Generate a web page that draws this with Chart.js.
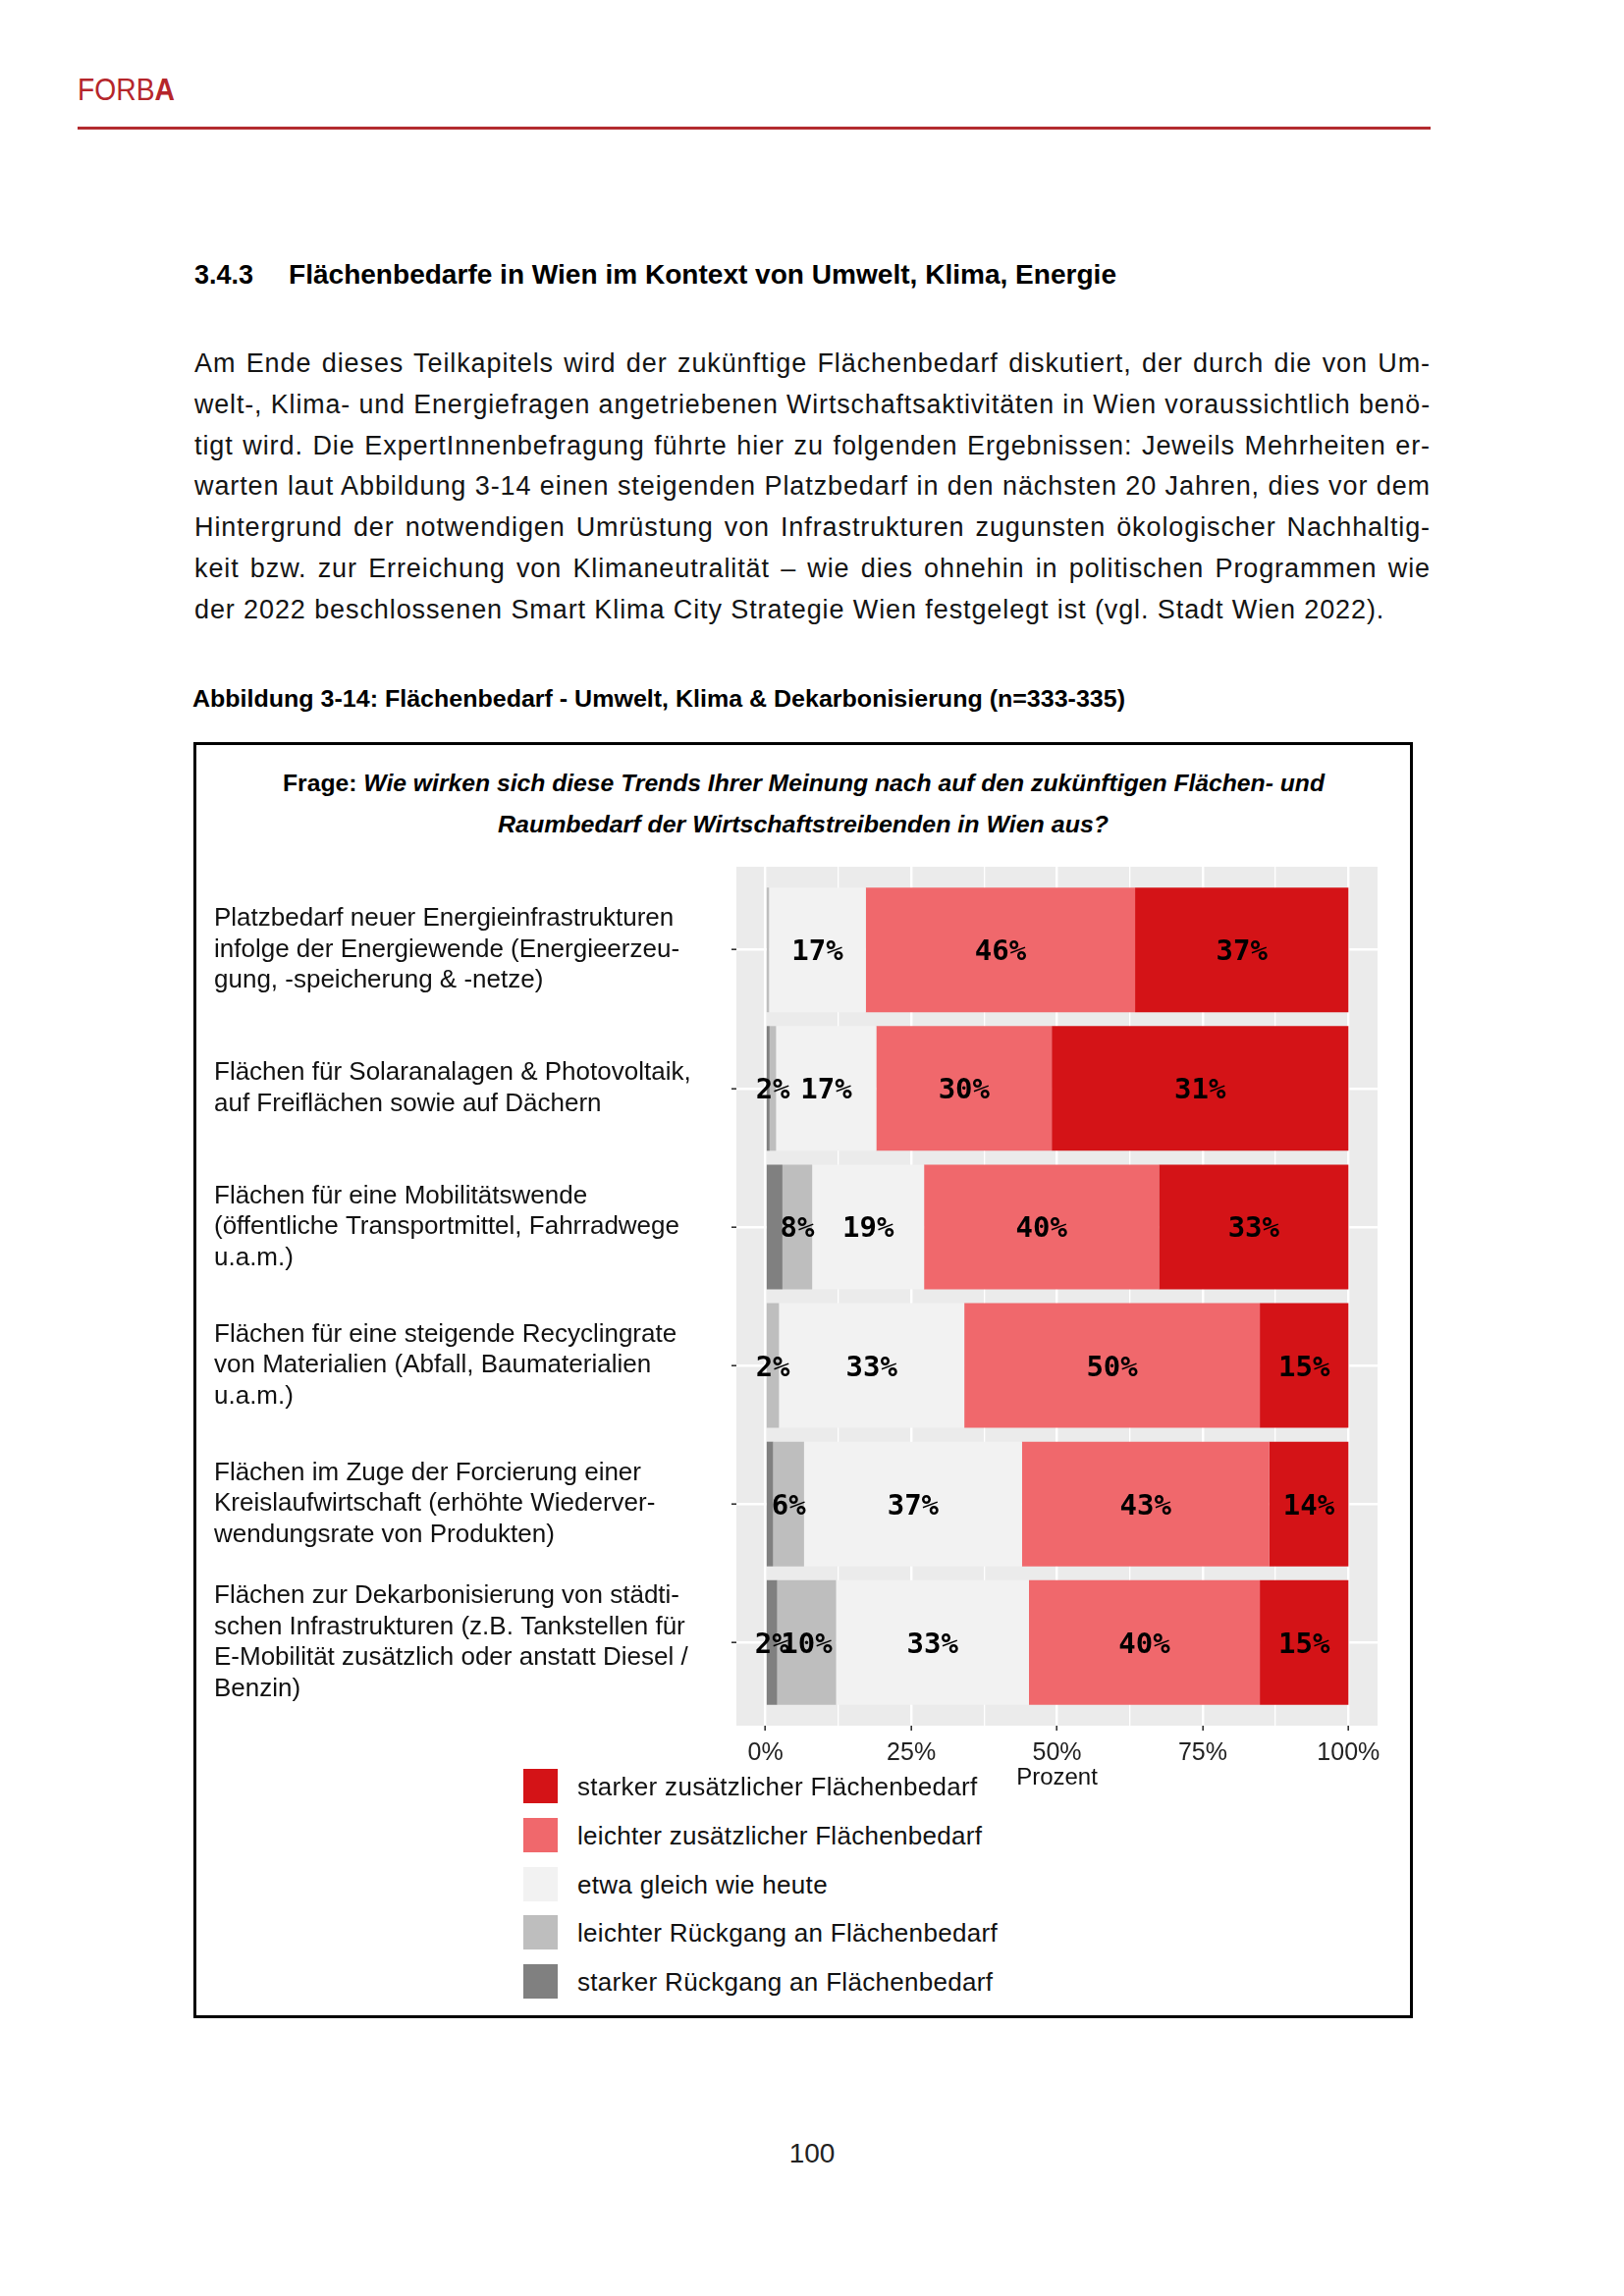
<!DOCTYPE html>
<html lang="de">
<head>
<meta charset="utf-8">
<title>Abbildung 3-14: Flächenbedarf</title>
<script src="https://cdn.jsdelivr.net/npm/chart.js@4.4.1/dist/chart.umd.min.js"></script>
<style>
  html, body { margin: 0; padding: 0; background: #fff; }
  #page { position: relative; width: 1654px; height: 2339px; overflow: hidden;
          font-family: 'Liberation Sans', Arial, sans-serif; color: #141414; }
  .abs { position: absolute; white-space: nowrap; line-height: 1; transform-origin: left top; }
  #forba { left: 79px; top: 76px; font-size: 31px; color: #b5262b; }
  #rule { position: absolute; left: 79px; top: 129px; width: 1378px; height: 2.5px; background: #b32b2f; }
  .h { font-size: 27px; font-weight: bold; color: #000; }
  .body { font-size: 27px; letter-spacing: 0.9px; }
  #caption { font-size: 24px; font-weight: bold; color: #000; }
  #box { position: absolute; left: 197px; top: 756px; width: 1242px; height: 1300px;
         border: 3px solid #000; box-sizing: border-box; }
  .frage { font-size: 24px; font-weight: bold; color: #000; }
  .frage i { font-style: italic; }
  #chartWrap { position: absolute; left: 198px; top: 870px; width: 1240px; height: 960px; }
  .legSq { position: absolute; width: 35px; height: 35px; }
  .legTx { font-size: 26px; letter-spacing: 0.3px; color: #111; }
  #pnum { font-size: 28px; color: #222; }
</style>
</head>
<body>
<div id="page">
  <div class="abs" id="forba">FORB<b>A</b></div>
  <div id="rule"></div>

  <div class="abs h" id="hNum" style="left:198px; top:267px;">3.4.3</div>
  <div class="abs h" id="hTxt" style="left:294px; top:267px;">Flächenbedarfe in Wien im Kontext von Umwelt, Klima, Energie</div>

  <div id="bodyText"></div>

  <div class="abs" id="caption" style="left:196px; top:700px;">Abbildung 3-14: Flächenbedarf - Umwelt, Klima &amp; Dekarbonisierung (n=333-335)</div>

  <div id="box"></div>
  <div class="abs frage" id="frage1" style="top:786px;"><span>Frage:</span> <i>Wie wirken sich diese Trends Ihrer Meinung nach auf den zukünftigen Flächen- und</i></div>
  <div class="abs frage" id="frage2" style="top:828px;"><i>Raumbedarf der Wirtschaftstreibenden in Wien aus?</i></div>

  <div id="chartWrap"><canvas id="chart"></canvas></div>
  <div id="legend"></div>

  <div class="abs" id="pnum" style="top:2180px;">100</div>
</div>

<script>
// ---- Daten ----
const KATEGORIEN = [
  ['Platzbedarf neuer Energieinfrastrukturen', 'infolge der Energiewende (Energieerzeu-', 'gung, -speicherung & -netze)'],
  ['Flächen für Solaranalagen & Photovoltaik,', 'auf Freiflächen sowie auf Dächern'],
  ['Flächen für eine Mobilitätswende', '(öffentliche Transportmittel, Fahrradwege', 'u.a.m.)'],
  ['Flächen für eine steigende Recyclingrate', 'von Materialien (Abfall, Baumaterialien', 'u.a.m.)'],
  ['Flächen im Zuge der Forcierung einer', 'Kreislaufwirtschaft (erhöhte Wiederver-', 'wendungsrate von Produkten)'],
  ['Flächen zur Dekarbonisierung von städti-', 'schen Infrastrukturen (z.B. Tankstellen für', 'E-Mobilität zusätzlich oder anstatt Diesel /', 'Benzin)'],
];

const STUFEN = [
  'starker Rückgang an Flächenbedarf',
  'leichter Rückgang an Flächenbedarf',
  'etwa gleich wie heute',
  'leichter zusätzlicher Flächenbedarf',
  'starker zusätzlicher Flächenbedarf',
];
const FARBEN = ['#808080', '#bebebe', '#f2f2f2', '#f0686c', '#d41317'];

// Anteile in Prozent
const STARK_RUECK  = [0,    0.7,  2.9,  0,    1.3,  2.0];
const LEICHT_RUECK = [0.6,  1.1,  5.1,  2.3,  5.3,  10.1];
const GLEICH       = [16.6, 17.2, 19.2, 31.8, 37.4, 33.1];
const LEICHT_ZUS   = [46.2, 30.1, 40.3, 50.7, 42.4, 39.6];
const STARK_ZUS    = [36.6, 50.9, 32.5, 15.2, 13.6, 15.2];

// Beschriftungen wie in der Vorlage
const TXT_STARK_RUECK  = ['', '', '', '', '', '2%'];
const TXT_LEICHT_RUECK = ['', '2%', '8%', '2%', '6%', '10%'];
const TXT_GLEICH       = ['17%', '17%', '19%', '33%', '37%', '33%'];
const TXT_LEICHT_ZUS   = ['46%', '30%', '40%', '50%', '43%', '40%'];
const TXT_STARK_ZUS    = ['37%', '31%', '33%', '15%', '14%', '15%'];

const X_TICKS = [0, 12.5, 25, 37.5, 50, 62.5, 75, 87.5, 100];

const BODY_LINES = [
  'Am Ende dieses Teilkapitels wird der zukünftige Flächenbedarf diskutiert, der durch die von Um-',
  'welt-, Klima- und Energiefragen angetriebenen Wirtschaftsaktivitäten in Wien voraussichtlich benö-',
  'tigt wird. Die ExpertInnenbefragung führte hier zu folgenden Ergebnissen: Jeweils Mehrheiten er-',
  'warten laut Abbildung 3-14 einen steigenden Platzbedarf in den nächsten 20 Jahren, dies vor dem',
  'Hintergrund der notwendigen Umrüstung von Infrastrukturen zugunsten ökologischer Nachhaltig-',
  'keit bzw. zur Erreichung von Klimaneutralität – wie dies ohnehin in politischen Programmen wie',
  'der 2022 beschlossenen Smart Klima City Strategie Wien festgelegt ist (vgl. Stadt Wien 2022).',
];

// ---- Textsatz ----
function fitLine(el, width, justify) {
  const w = el.getBoundingClientRect().width;
  const gaps = (el.textContent.match(/ /g) || []).length;
  if (justify && w < width && gaps) {
    el.style.wordSpacing = ((width - w) / gaps) + 'px';
  } else {
    el.style.transform = `scaleX(${width / w})`;
  }
}

const bodyBox = document.getElementById('bodyText');
BODY_LINES.forEach((line, i) => {
  const d = document.createElement('div');
  d.className = 'abs body';
  d.style.left = '198px';
  d.style.top = (357 + i * 41.8) + 'px';
  d.textContent = line;
  bodyBox.appendChild(d);
  if (i < BODY_LINES.length - 1) fitLine(d, 1259, true);
});

fitLine(document.getElementById('forba'), 99);
fitLine(document.getElementById('hTxt'), 843);
fitLine(document.getElementById('caption'), 950);

function centerLine(id, width, cx) {
  const el = document.getElementById(id);
  fitLine(el, width);
  el.style.left = (cx - width / 2) + 'px';
}
centerLine('frage1', 1061, 818);
centerLine('frage2', 622, 818);
const pn = document.getElementById('pnum');
pn.style.left = (827 - pn.getBoundingClientRect().width / 2) + 'px';

// Legende (stark zusätzlich oben)
const leg = document.getElementById('legend');
STUFEN.slice().reverse().forEach((name, i) => {
  const k = STUFEN.length - 1 - i;
  const top = 1802 + i * 49.8;
  const sq = document.createElement('div');
  sq.className = 'legSq';
  sq.style.left = '533px';
  sq.style.top = top + 'px';
  sq.style.background = FARBEN[k];
  leg.appendChild(sq);
  const tx = document.createElement('div');
  tx.className = 'abs legTx';
  tx.style.left = '588px';
  tx.style.top = (top + 5) + 'px';
  tx.textContent = name;
  leg.appendChild(tx);
});

// ---- Chart ----
Chart.defaults.font.family = "'Liberation Sans', Arial, sans-serif";

const panelPlugin = {
  id: 'panel',
  beforeDraw(chart) {
    const { ctx, chartArea: a } = chart;
    ctx.save();
    ctx.fillStyle = '#ebebeb';
    ctx.fillRect(a.left, a.top, a.right - a.left, a.bottom - a.top);
    ctx.restore();
  }
};

const balkenText = {
  id: 'balkenText',
  afterDatasetsDraw(chart) {
    const ctx = chart.ctx;
    ctx.save();
    ctx.font = "bold 29px 'DejaVu Sans Mono', monospace";
    ctx.fillStyle = '#000';
    ctx.textAlign = 'center';
    ctx.textBaseline = 'middle';
    chart.data.datasets.forEach((ds, i) => {
      chart.getDatasetMeta(i).data.forEach((bar, j) => {
        const t = ds.beschriftung[j];
        if (t) ctx.fillText(t, (bar.x + bar.base) / 2, bar.y + 3);
      });
    });
    ctx.restore();
  }
};

const WERTE = [STARK_RUECK, LEICHT_RUECK, GLEICH, LEICHT_ZUS, STARK_ZUS];
const TEXTE = [TXT_STARK_RUECK, TXT_LEICHT_RUECK, TXT_GLEICH, TXT_LEICHT_ZUS, TXT_STARK_ZUS];
const isMajor = v => v % 25 === 0;

new Chart(document.getElementById('chart'), {
  type: 'bar',
  data: {
    datasets: STUFEN.map((name, k) => ({
      label: name,
      data: WERTE[k].map((v, i) => ({ x: v, y: i })),
      beschriftung: TEXTE[k],
      backgroundColor: FARBEN[k],
      borderWidth: 0,
      categoryPercentage: 0.9,
      barPercentage: 1.0,
    }))
  },
  options: {
    indexAxis: 'y',
    responsive: true,
    maintainAspectRatio: false,
    animation: false,
    layout: { padding: { left: 20, right: 35, top: 13, bottom: 4 } },
    plugins: { legend: { display: false }, tooltip: { enabled: false } },
    scales: {
      x: {
        type: 'linear',
        stacked: true,
        min: -5,
        max: 105,
        afterBuildTicks: s => { s.ticks = X_TICKS.map(v => ({ value: v })); },
        afterFit: s => { s.height = 68; s.paddingLeft = 0; s.paddingRight = 0; },
        grid: {
          color: '#ffffff',
          lineWidth: c => (c.tick && isMajor(c.tick.value)) ? 2.4 : 1.3,
          tickColor: c => (c.tick && isMajor(c.tick.value)) ? '#333333' : 'rgba(0,0,0,0)',
          tickLength: 5,
          tickWidth: 1.6,
        },
        border: { display: false },
        ticks: {
          autoSkip: false,
          maxRotation: 0,
          padding: 8,
          color: '#222',
          font: { size: 25 },
          callback: v => isMajor(v) ? v + '%' : ''
        },
        title: { display: true, text: 'Prozent', color: '#111', font: { size: 24 }, padding: 0 }
      },
      y: {
        type: 'linear',
        stacked: true,
        reverse: true,
        offset: false,
        min: -0.6,
        max: 5.6,
        afterBuildTicks: s => { s.ticks = KATEGORIEN.map((_, i) => ({ value: i })); },
        afterFit: s => { s.width = 532; s.paddingTop = 0; s.paddingBottom = 0; },
        grid: { offset: false, color: '#ffffff', lineWidth: 2.4, tickColor: '#333333', tickLength: 5, tickWidth: 1.6 },
        border: { display: false },
        ticks: {
          autoSkip: false,
          crossAlign: 'far',
          color: '#111',
          font: { size: 26, lineHeight: 1.21 },
          callback: v => KATEGORIEN[v]
        }
      }
    }
  },
  plugins: [panelPlugin, balkenText]
});
</script>
</body>
</html>
